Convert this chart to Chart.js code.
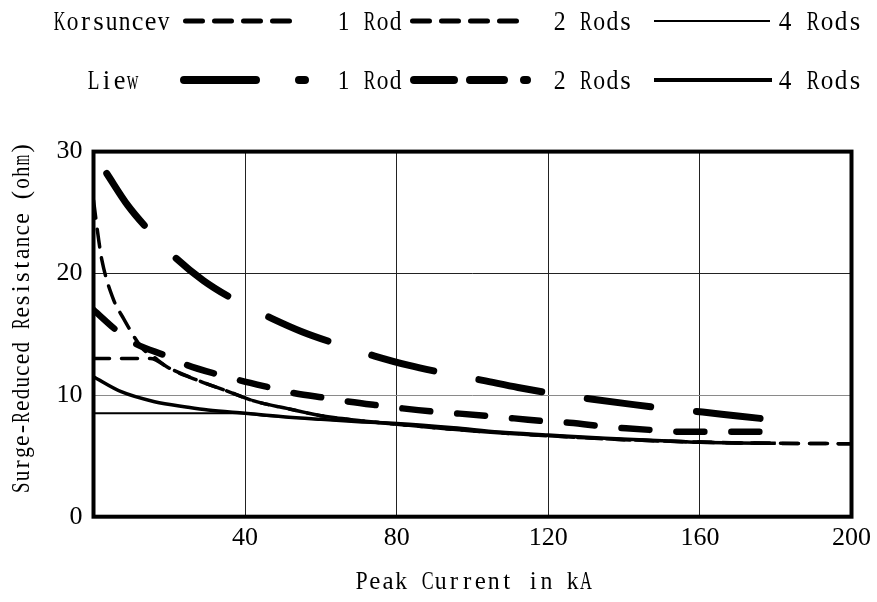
<!DOCTYPE html>
<html>
<head>
<meta charset="utf-8">
<script src="https://cdn.jsdelivr.net/npm/chart.js@4.4.1/dist/chart.umd.min.js"></script>
<style>
  html, body { margin: 0; padding: 0; background: #fff; }
  canvas { display: block; }
</style>
</head>
<body>
<canvas id="surge" width="877" height="602"></canvas>
<script>
// peak current (kA) and surge-reduced resistance (ohm) per curve
var kors1Current = [0, 1.3, 2.2, 5.2, 7.9, 12.7, 16, 20, 27.6, 35, 43, 51, 60, 70, 80, 100, 120, 130, 140, 160, 180, 200];
var kors1Res     = [26.0, 22.9, 21.1, 17.9, 16.3, 13.9, 13.1, 12.2, 11.2, 10.35, 9.45, 8.9, 8.3, 7.9, 7.6, 7.05, 6.65, 6.48, 6.33, 6.13, 6.03, 6.0];

var kors2Current = [0, 15, 20, 27.6, 35, 43, 51, 60, 70, 80, 100, 120, 140, 160, 180, 200];
var kors2Res     = [13.0, 13.0, 12.2, 11.2, 10.35, 9.45, 8.9, 8.3, 7.9, 7.6, 7.05, 6.65, 6.33, 6.13, 6.03, 6.0];

var kors4Current = [0, 38, 45, 60, 70, 80, 95, 107, 120, 135, 150, 160, 170, 180];
var kors4Res     = [8.5, 8.5, 8.3, 8.0, 7.8, 7.65, 7.3, 6.95, 6.71, 6.45, 6.25, 6.12, 6.06, 6.03];

var liew1Current = [3.5, 9, 14.4, 21.9, 29, 37.3, 47, 55, 64.1, 74.2, 83, 92.6, 102.7, 112, 121.6, 131.7, 141, 150.6, 160.7, 170, 180];
var liew1Res     = [28.2, 25.6, 23.6, 21.2, 19.4, 17.8, 16.3, 15.2, 14.2, 13.2, 12.45, 11.8, 11.2, 10.62, 10.1, 9.65, 9.27, 8.9, 8.6, 8.27, 7.95];

var liew2Current = [0, 6.5, 10.9, 19.7, 24.6, 33.3, 38.6, 47.4, 53.1, 61.9, 67.6, 76.4, 82.1, 90.9, 96.6, 105.8, 111, 120.7, 125.6, 135.2, 140.5, 150.1, 155, 165, 180];
var liew2Res     = [17.0, 15.2, 14.25, 13.15, 12.47, 11.64, 11.2, 10.55, 10.14, 9.73, 9.45, 9.1, 8.88, 8.6, 8.47, 8.22, 8.08, 7.8, 7.72, 7.4, 7.26, 7.07, 6.98, 6.98, 6.97];

var liew4Current = [0, 7.3, 16.1, 24.9, 30.2, 40, 50, 60, 70, 80, 95, 107, 120, 135, 150, 160, 170, 180];
var liew4Res     = [11.5, 10.27, 9.45, 9.0, 8.77, 8.5, 8.22, 8.0, 7.8, 7.65, 7.3, 6.95, 6.71, 6.45, 6.25, 6.12, 6.06, 6.03];

var xTicks = [0, 40, 80, 120, 160, 200];
var yTicks = [0, 10, 20, 30];

var rowNames = ["Korsuncev", "Liew"];
var rodNames = ["1 Rod", "2 Rods", "4 Rods"];

function pts(xs, ys) {
  return xs.map(function (x, i) { return { x: x, y: ys[i] }; });
}

function curve(label, xs, ys, width, dash) {
  return {
    label: label,
    data: pts(xs, ys),
    borderColor: "#000",
    borderWidth: width,
    borderDash: dash,
    borderCapStyle: dash.length ? "round" : "butt",
    borderJoinStyle: "round",
    pointRadius: 0,
    fill: false,
    cubicInterpolationMode: "monotone"
  };
}

var datasets = [
  curve("Liew 1 Rod", liew1Current, liew1Res, 7, [64, 46]),
  curve("Liew 2 Rods", liew2Current, liew2Res, 6.5, [28, 27]),
  curve("Liew 4 Rods", liew4Current, liew4Res, 3.5, []),
  curve("Korsuncev 1 Rod", kors1Current, kors1Res, 3.5, [18, 11]),
  curve("Korsuncev 2 Rods", kors2Current, kors2Res, 3.5, [16, 12]),
  curve("Korsuncev 4 Rods", kors4Current, kors4Res, 2, [])
];

// legend line samples: [x from, x to, width, dash]
var legendRows = [
  { y: 21, samples: [[185.5, 295, 5, [17, 12]], [412.5, 528, 5, [17, 12]], [654, 770, 2, []]] },
  { y: 80, samples: [[184, 305, 8, [72, 43, 6, 100]], [414, 527, 8, [40, 16, 34, 20, 3, 100]], [654, 772, 4, []]] }
];

var SERIF = "Liberation Serif, Times New Roman, serif";

// fixed-pitch text: every glyph sits in its own cell, wide ones get narrowed to fit
function pitched(ctx, str, x, y, size, advance, squeeze, center) {
  var start = center ? x - str.length * advance / 2 : x;
  ctx.save();
  ctx.font = size + "px " + SERIF;
  ctx.fillStyle = "#000";
  ctx.textAlign = "center";
  ctx.textBaseline = "alphabetic";
  for (var i = 0; i < str.length; i++) {
    var w = ctx.measureText(str[i]).width || 1;
    var sx = Math.min(squeeze, advance * 0.9 / w);
    ctx.save();
    ctx.translate(start + (i + 0.5) * advance, y);
    ctx.scale(sx, 1);
    ctx.fillText(str[i], 0, 0);
    ctx.restore();
  }
  ctx.restore();
}

var framePlugin = {
  id: "frame",
  afterDatasetsDraw: function (chart) {
    var a = chart.chartArea, c = chart.ctx;
    c.save();
    c.strokeStyle = "#000";
    c.lineWidth = 4;
    c.strokeRect(a.left, a.top, a.right - a.left, a.bottom - a.top);
    c.restore();
  }
};

var textPlugin = {
  id: "texts",
  afterDraw: function (chart) {
    var c = chart.ctx;
    // legend
    legendRows.forEach(function (row, r) {
      var base = row.y + 9;
      pitched(c, rowNames[r], r === 0 ? 53 : 87, base, 27, 13, 1);
      row.samples.forEach(function (s) {
        c.save();
        c.strokeStyle = "#000";
        c.lineWidth = s[2];
        c.lineCap = s[3].length ? "round" : "butt";
        c.setLineDash(s[3]);
        c.beginPath();
        c.moveTo(s[0], row.y);
        c.lineTo(s[1], row.y);
        c.stroke();
        c.restore();
      });
      pitched(c, rodNames[0], 337, base, 27, 13, 1);
      pitched(c, rodNames[1], 553, base, 27, 13.2, 1);
      pitched(c, rodNames[2], 778, base, 27, 14, 1);
    });
    // axis titles
    pitched(c, "Peak Current in kA", 355, 589, 25, 13.2, 1);
    c.save();
    c.translate(29, 318);
    c.rotate(-Math.PI / 2);
    pitched(c, "Surge-Reduced Resistance (ohm)", 0, 0, 25, 11.7, 1, true);
    c.restore();
  }
};

var tickFont = { family: SERIF, size: 26 };

new Chart(document.getElementById("surge"), {
  type: "line",
  data: { datasets: datasets },
  options: {
    responsive: false,
    animation: false,
    layout: { padding: { left: 0, right: 24.5, top: 151.6, bottom: 0 } },
    plugins: { legend: { display: false }, tooltip: { enabled: false } },
    scales: {
      x: {
        type: "linear",
        min: xTicks[0],
        max: xTicks[xTicks.length - 1],
        afterBuildTicks: function (s) { s.ticks = xTicks.map(function (v) { return { value: v }; }); },
        afterFit: function (s) { s.height = 85.3; },
        ticks: {
          color: "#000",
          font: tickFont,
          padding: 6,
          maxRotation: 0,
          autoSkip: false,
          callback: function (v) { return v === 0 ? "" : v; }
        },
        grid: { color: "#222", lineWidth: 1, drawTicks: false },
        border: { display: false }
      },
      y: {
        min: yTicks[0],
        max: yTicks[yTicks.length - 1],
        afterBuildTicks: function (s) { s.ticks = yTicks.map(function (v) { return { value: v }; }); },
        afterFit: function (s) { s.width = 93.5; },
        ticks: { color: "#000", font: tickFont, padding: 11 },
        grid: {
          color: function (c) { return c.tick && c.tick.value === 10 ? "#8a8a8a" : "#222"; },
          lineWidth: 1,
          drawTicks: false
        },
        border: { display: false }
      }
    }
  },
  plugins: [framePlugin, textPlugin]
});
</script>
</body>
</html>
